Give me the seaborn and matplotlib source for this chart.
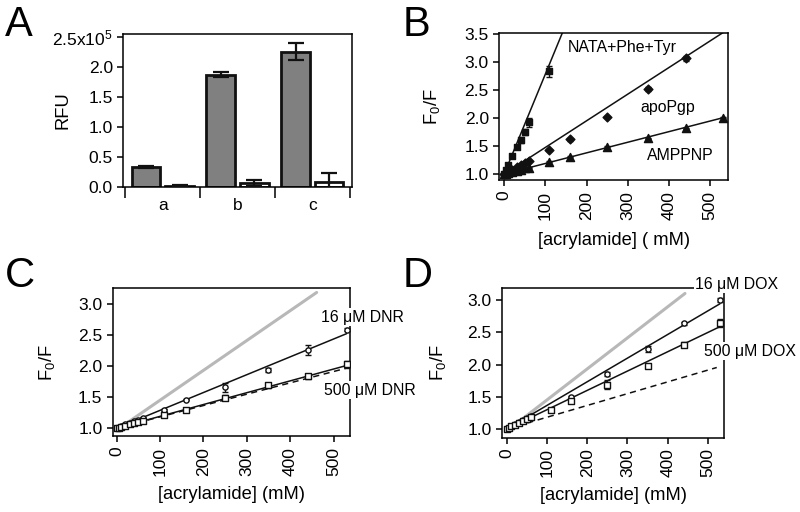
# Four-panel quenching figure (A: bar chart, B-D: Stern-Volmer plots)

import matplotlib
matplotlib.use('Agg')
import matplotlib.pyplot as plt
import numpy as np
import pandas as pd
import seaborn as sns

# ---- panel A data (RFU x 10^5) ----
groups = ['a', 'b', 'c']
rfu_dark = [0.33, 1.87, 2.25]
rfu_dark_err = [0.02, 0.04, 0.14]
rfu_light = [0.02, 0.06, 0.08]
rfu_light_err = [0.01, 0.05, 0.15]

# ---- panel B data ----
conc = [0, 5, 10, 20, 30, 40, 50, 60, 110, 160, 250, 350, 440, 530]
nata_y = [1.0, 1.07, 1.16, 1.32, 1.48, 1.61, 1.75, 1.93, 2.84]
nata_err = [0.01, 0.02, 0.03, 0.04, 0.04, 0.05, 0.05, 0.08, 0.10]
apo_y = [1.0, 1.02, 1.04, 1.08, 1.12, 1.16, 1.20, 1.24, 1.43, 1.62, 2.02, 2.52, 3.07]
apo_err = [0.01, 0.01, 0.01, 0.01, 0.01, 0.01, 0.01, 0.01, 0.02, 0.02, 0.02, 0.04, 0.04]
amp_y = [1.0, 1.01, 1.02, 1.04, 1.06, 1.08, 1.10, 1.11, 1.22, 1.31, 1.49, 1.64, 1.82, 2.01]
ksv_nata = 0.0179
ksv_apo = 0.00477
ksv_amp = 0.00190

# ---- panel C data (DNR) ----
dnr16_y = [1.0, 1.01, 1.03, 1.06, 1.08, 1.11, 1.14, 1.17, 1.29, 1.46, 1.66, 1.94, 2.26, 2.59]
dnr16_err = [0.01, 0.01, 0.01, 0.01, 0.01, 0.01, 0.01, 0.01, 0.02, 0.01, 0.07, 0.04, 0.08, 0.02]
dnr500_y = [1.0, 1.01, 1.02, 1.04, 1.06, 1.08, 1.10, 1.12, 1.21, 1.30, 1.49, 1.69, 1.84, 2.03]
dnr500_err = [0.01, 0.01, 0.01, 0.01, 0.01, 0.01, 0.01, 0.01, 0.02, 0.03, 0.04, 0.04, 0.04, 0.05]
ksv_dnr16 = 0.00288
ksv_dnr500 = 0.00191

# ---- panel D data (DOX) ----
dox16_y = [1.0, 1.02, 1.04, 1.07, 1.11, 1.14, 1.17, 1.20, 1.30, 1.50, 1.86, 2.24, 2.64, 3.00]
dox16_err = [0.01, 0.01, 0.01, 0.01, 0.01, 0.01, 0.01, 0.01, 0.01, 0.02, 0.03, 0.05, 0.02, 0.03]
dox500_y = [1.0, 1.02, 1.04, 1.06, 1.09, 1.12, 1.15, 1.18, 1.30, 1.43, 1.69, 1.98, 2.31, 2.65]
dox500_err = [0.01, 0.01, 0.01, 0.01, 0.01, 0.01, 0.01, 0.01, 0.01, 0.03, 0.07, 0.03, 0.04, 0.06]
ksv_dox16 = 0.00367
ksv_dox500 = 0.00300

# reference lines (apoPgp grey, AMPPNP dashed) used in C and D
ksv_ref_apo = 0.00482
ksv_ref_amp = 0.00183

sns.set_style('ticks')
plt.rcParams['font.family'] = ['Liberation Sans', 'DejaVu Sans']
plt.rcParams['mathtext.default'] = 'regular'
plt.rcParams['axes.linewidth'] = 1.1
plt.rcParams['axes.edgecolor'] = 'black'
plt.rcParams['axes.labelcolor'] = 'black'
plt.rcParams['text.color'] = 'black'
plt.rcParams['xtick.color'] = 'black'
plt.rcParams['ytick.color'] = 'black'
plt.rcParams['xtick.major.width'] = 1.1
plt.rcParams['ytick.major.width'] = 1.1
plt.rcParams['xtick.major.size'] = 4
plt.rcParams['ytick.major.size'] = 4
plt.rcParams['font.size'] = 12.5
plt.rcParams['axes.labelsize'] = 13.2

fig = plt.figure(figsize=(8, 5.12), dpi=100)
axA = fig.add_axes([0.154, 0.635, 0.286, 0.299])
axB = fig.add_axes([0.624, 0.648, 0.286, 0.287])
axC = fig.add_axes([0.141, 0.148, 0.296, 0.289])
axD = fig.add_axes([0.6275, 0.1445, 0.2775, 0.293])

black = '#111111'


def stern_line(ax, k, x_end, **kw):
    xs = np.array([0, x_end])
    sns.lineplot(x=xs, y=1 + k * xs, ax=ax, **kw)


def points(ax, x, y, err, marker, size, face):
    ax.errorbar(x, y, yerr=err, fmt='none', ecolor=black, elinewidth=1, capsize=2.5, capthick=1, zorder=3)
    sns.scatterplot(x=x, y=y, ax=ax, marker=marker, s=size, color=face,
                    edgecolor=black, linewidth=1, zorder=4, legend=False)


def label(ax, x, y, s):
    ax.text(x, y, s, fontsize=11.4, va='center', ha='left', clip_on=False, zorder=5,
            bbox=dict(facecolor='white', edgecolor='none', pad=1))


# ---------------- panel A ----------------
bar_df = pd.DataFrame({
    'group': groups * 2,
    'kind': ['dark'] * 3 + ['light'] * 3,
    'rfu': rfu_dark + rfu_light,
})
sns.barplot(data=bar_df, x='group', y='rfu', hue='kind', ax=axA,
            palette={'dark': '#808080', 'light': 'white'},
            edgecolor=black, linewidth=2, width=0.9, gap=0.15,
            errorbar=None, legend=False)
bar_err = rfu_dark_err + rfu_light_err
for patch, val, err in zip(axA.patches, bar_df['rfu'], bar_err):
    axA.errorbar(patch.get_x() + patch.get_width() / 2, val, yerr=err, fmt='none',
                 ecolor=black, elinewidth=1.6, capsize=6, capthick=1.6, zorder=5)
axA.set_xlim(-0.53, 2.53)
axA.set_ylim(0, 2.55)
axA.set_yticks([0, 0.5, 1.0, 1.5, 2.0, 2.5])
axA.set_yticklabels(['0.0', '0.5', '1.0', '1.5', '2.0', '2.5x10$^5$'])
axA.set_xticks([-0.5, 0.5, 1.5, 2.5])
axA.set_xticklabels([])
axA.tick_params(axis='x', which='major', length=8, pad=2)
axA.set_xticks([0, 1, 2], minor=True)
axA.set_xticklabels(groups, minor=True)
axA.tick_params(axis='x', which='minor', length=0, pad=8)
axA.set_xlabel('')
axA.set_ylabel('RFU')
axA.yaxis.set_label_coords(-0.226, 0.5)

# ---------------- panel B ----------------
points(axB, conc[:9], nata_y, nata_err, 's', 14, black)
points(axB, conc[:13], apo_y, apo_err, 'D', 20, black)
points(axB, conc, amp_y, [0.01] * len(conc), '^', 34, black)
stern_line(axB, ksv_nata, 535, color=black, linewidth=1.1)
stern_line(axB, ksv_apo, 535, color=black, linewidth=1.1)
stern_line(axB, ksv_amp, 535, color=black, linewidth=1.1)
axB.set_xlim(-12, 543)
axB.set_ylim(0.89, 3.52)
axB.set_yticks([1.0, 1.5, 2.0, 2.5, 3.0, 3.5])
axB.set_xticks([0, 100, 200, 300, 400, 500])
axB.tick_params(axis='x', labelrotation=90)
axB.set_xlabel('[acrylamide] ( mM)')
axB.set_ylabel('F$_0$/F')
axB.yaxis.set_label_coords(-0.249, 0.5)
axB.xaxis.set_label_coords(0.5, -0.354)
label(axB, 155, 3.27, 'NATA+Phe+Tyr')
label(axB, 330, 2.2, 'apoPgp')
label(axB, 347, 1.34, 'AMPPNP')

# ---------------- panels C and D ----------------
for ax, y16, e16, y500, e500, k16, k500, grey_end, dash_end, names, lims, ycoord, xcoord in [
    (axC, dnr16_y, dnr16_err, dnr500_y, dnr500_err, ksv_dnr16, ksv_dnr500, 461, 530,
     [(472, 2.79, '16 μM DNR'), (479, 1.61, '500 μM DNR')], (-9, 537, 0.87, 3.26), -0.236, -0.338),
    (axD, dox16_y, dox16_err, dox500_y, dox500_err, ksv_dox16, ksv_dox500, 443, 522,
     [(468, 3.25, '16 μM DOX'), (490, 2.21, '500 μM DOX')], (-12, 540, 0.86, 3.19), -0.243, -0.327),
]:
    xs = np.array([0, grey_end])
    sns.lineplot(x=xs, y=0.97 + ksv_ref_apo * xs, ax=ax, color='#b8b8b8', linewidth=2.2)
    stern_line(ax, ksv_ref_amp, dash_end, color=black, linewidth=1.1, linestyle=(0, (4, 3)))
    points(ax, conc, y16, e16, 'o', 14, 'white')
    points(ax, conc, y500, e500, 's', 14, 'white')
    stern_line(ax, k16, 530, color=black, linewidth=1.1)
    stern_line(ax, k500, 530, color=black, linewidth=1.1)
    ax.set_xlim(lims[0], lims[1])
    ax.set_ylim(lims[2], lims[3])
    ax.set_yticks([1.0, 1.5, 2.0, 2.5, 3.0])
    ax.set_xticks([0, 100, 200, 300, 400, 500])
    ax.tick_params(axis='x', labelrotation=90)
    ax.set_xlabel('[acrylamide] (mM)')
    ax.set_ylabel('F$_0$/F')
    ax.yaxis.set_label_coords(ycoord, 0.5)
    ax.xaxis.set_label_coords(0.5, xcoord)
    for lx, ly, s in names:
        label(ax, lx, ly, s)

# panel letters
fig.text(0.006, 0.99, 'A', fontsize=30, va='top', ha='left')
fig.text(0.503, 0.99, 'B', fontsize=30, va='top', ha='left')
fig.text(0.006, 0.5, 'C', fontsize=30, va='top', ha='left')
fig.text(0.503, 0.5, 'D', fontsize=30, va='top', ha='left')

fig.savefig('out.png', dpi=100, facecolor='white')
